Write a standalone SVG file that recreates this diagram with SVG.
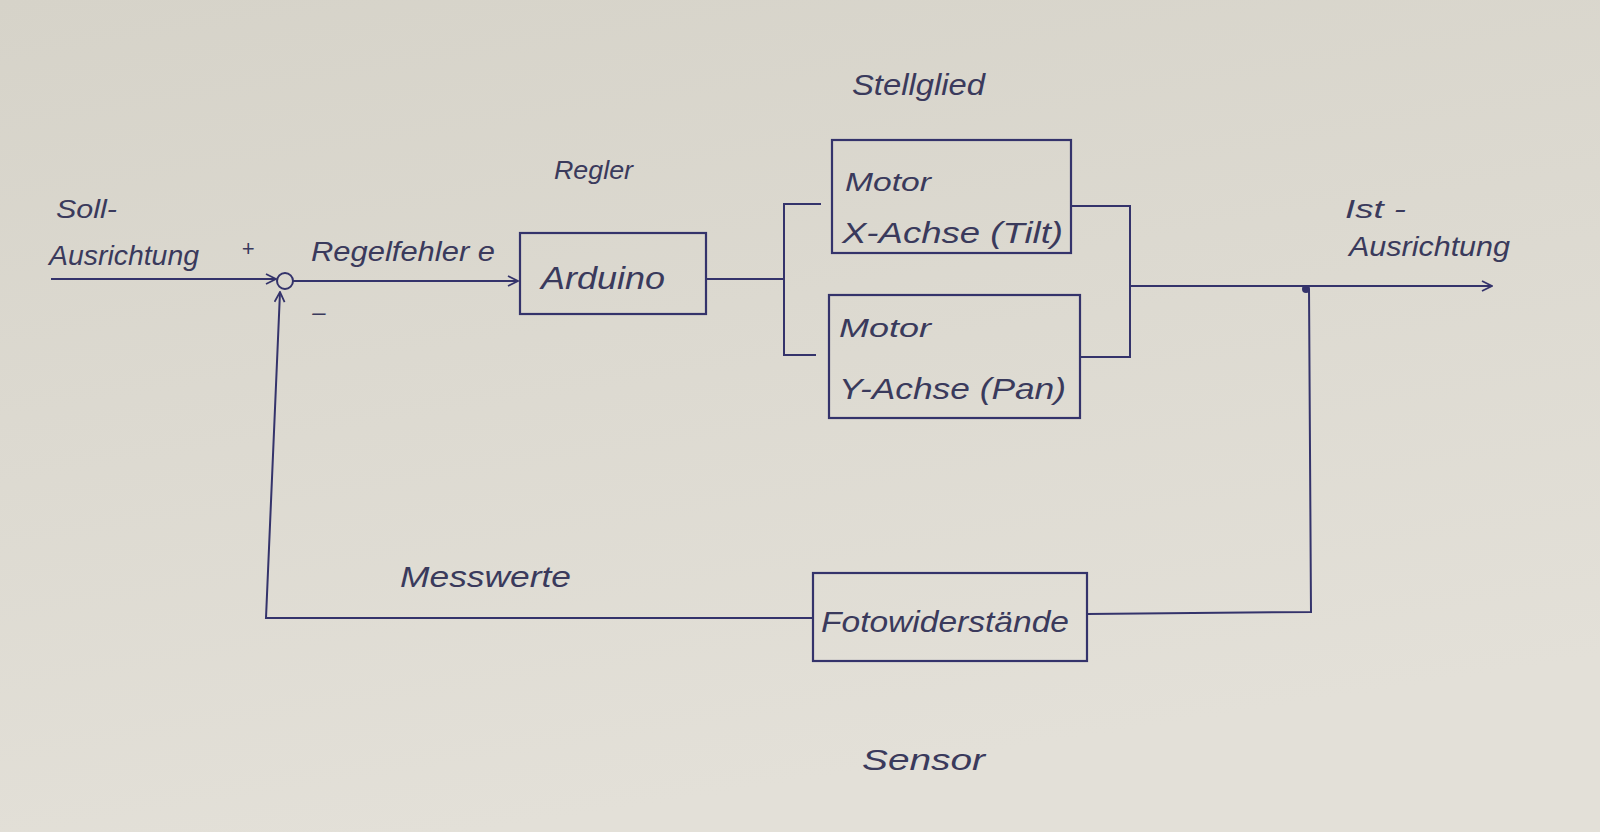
<svg xmlns="http://www.w3.org/2000/svg" width="1600" height="832" viewBox="0 0 1600 832">
<defs>
<linearGradient id="paper" x1="0" y1="0" x2="0.3" y2="1">
<stop offset="0" stop-color="#d6d3c9"/>
<stop offset="1" stop-color="#e3e0d8"/>
</linearGradient>
<marker id="arr" viewBox="0 0 12 12" refX="11" refY="6" markerWidth="12" markerHeight="12" markerUnits="userSpaceOnUse" orient="auto">
<path d="M1,1 L11,6 L1,11" fill="none" stroke="#34336b" stroke-width="1.8"/>
</marker>
</defs>
<style>
.ln{fill:none;stroke:#34336b;stroke-width:2}
.bx{fill:none;stroke:#34336b;stroke-width:2.2}
.t{font-family:"Liberation Sans",Arial,sans-serif;fill:#3a3a5c;font-style:italic}
</style>
<rect width="1600" height="832" fill="url(#paper)"/>

<g id="connectors">
<path class="ln" d="M51,279 L276,279" marker-end="url(#arr)"/>
<path class="ln" d="M293,281 L518,281" marker-end="url(#arr)"/>
<path class="ln" d="M706,279 L784,279"/>
<path class="ln" d="M821,204 L784,204 L784,355 L816,355"/>
<path class="ln" d="M1071,206 L1130,206 L1130,357 L1080,357"/>
<path class="ln" d="M1130,286 L1492,286" marker-end="url(#arr)"/>
<circle cx="1306" cy="289" r="4" fill="#34336b"/>
<path class="ln" d="M1309,289 L1311,612 L1087,614"/>
<path class="ln" d="M813,618 L266,618 L280,292" marker-end="url(#arr)"/>
</g>

<g id="sum">
<circle cx="285" cy="281" r="8" fill="none" stroke="#34336b" stroke-width="2"/>
<text class="t" x="248" y="256" font-size="22" text-anchor="middle">+</text>
<text class="t" x="319" y="320" font-size="24" text-anchor="middle">–</text>
</g>

<g id="input-label">
<text class="t" x="56" y="218" font-size="26" textLength="61" lengthAdjust="spacingAndGlyphs">Soll-</text>
<text class="t" x="49" y="265" font-size="27" textLength="150" lengthAdjust="spacingAndGlyphs">Ausrichtung</text>
</g>

<g id="error-label">
<text class="t" x="311" y="261" font-size="28" textLength="184" lengthAdjust="spacingAndGlyphs">Regelfehler e</text>
</g>

<g id="regler">
<text class="t" x="554" y="179" font-size="26" textLength="79" lengthAdjust="spacingAndGlyphs">Regler</text>
<rect class="bx" x="520" y="233" width="186" height="81"/>
<text class="t" x="541" y="289" font-size="32" textLength="124" lengthAdjust="spacingAndGlyphs">Arduino</text>
</g>

<g id="stellglied">
<text class="t" x="852" y="95" font-size="30" textLength="133" lengthAdjust="spacingAndGlyphs">Stellglied</text>
</g>

<g id="motor-x">
<rect class="bx" x="832" y="140" width="239" height="113"/>
<text class="t" x="845" y="191" font-size="26" textLength="86" lengthAdjust="spacingAndGlyphs">Motor</text>
<text class="t" x="842" y="243" font-size="29" textLength="221" lengthAdjust="spacingAndGlyphs">X-Achse (Tilt)</text>
</g>

<g id="motor-y">
<rect class="bx" x="829" y="295" width="251" height="123"/>
<text class="t" x="839" y="337" font-size="26" textLength="92" lengthAdjust="spacingAndGlyphs">Motor</text>
<text class="t" x="839" y="399" font-size="29" textLength="227" lengthAdjust="spacingAndGlyphs">Y-Achse (Pan)</text>
</g>

<g id="output-label">
<text class="t" x="1345" y="218" font-size="26" textLength="61" lengthAdjust="spacingAndGlyphs">Ist -</text>
<text class="t" x="1349" y="256" font-size="27" textLength="161" lengthAdjust="spacingAndGlyphs">Ausrichtung</text>
</g>

<g id="sensor">
<rect class="bx" x="813" y="573" width="274" height="88"/>
<text class="t" x="821" y="632" font-size="30" textLength="248" lengthAdjust="spacingAndGlyphs">Fotowiderstände</text>
<text class="t" x="862" y="770" font-size="30" textLength="123" lengthAdjust="spacingAndGlyphs">Sensor</text>
</g>

<g id="messwerte">
<text class="t" x="400" y="587" font-size="30" textLength="171" lengthAdjust="spacingAndGlyphs">Messwerte</text>
</g>
</svg>
